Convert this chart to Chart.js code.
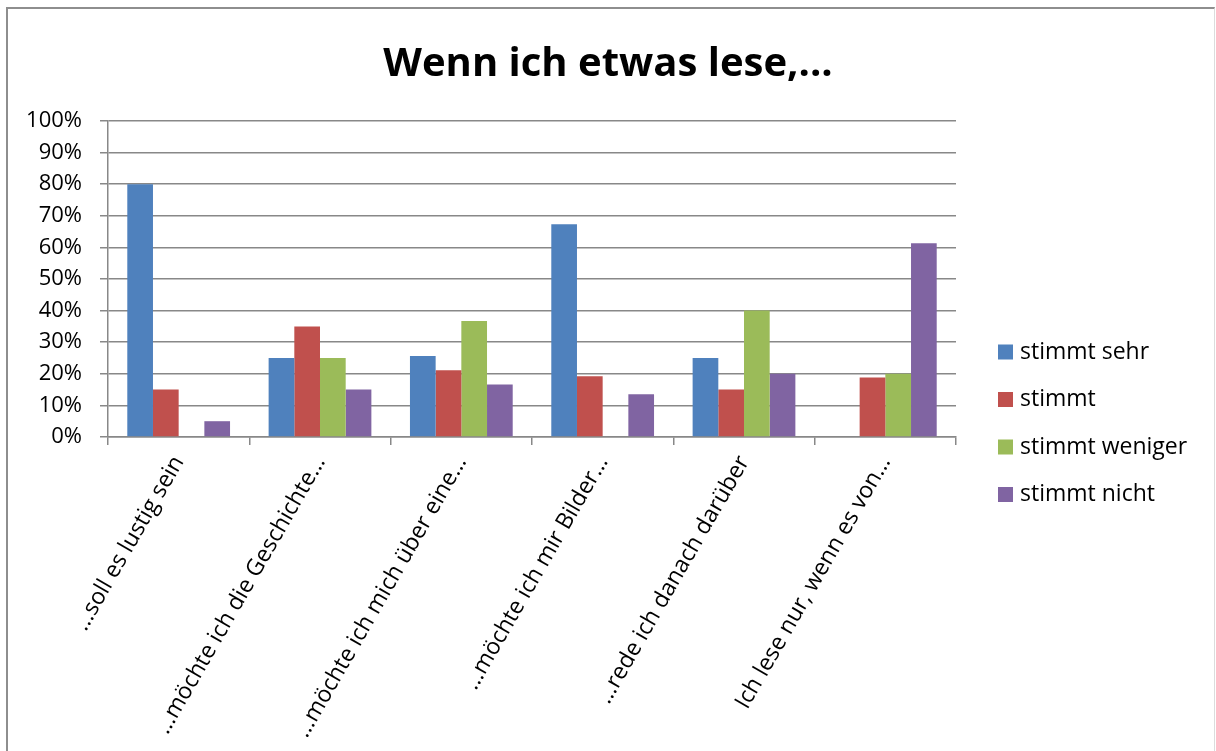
<!DOCTYPE html>
<html>
<head>
<meta charset="utf-8">
<script src="https://cdn.jsdelivr.net/npm/chart.js@4"></script>
<style>
    body { margin: 0; background: #fff; }
    #frame {
        position: absolute; left: 6px; top: 7px; width: 1206px; height: 800px;
        border-left: 2px solid #8e8e8e; border-top: 2px solid #8e8e8e; border-right: 1px solid #dcdcdc;
    }
    #chart { position: absolute; left: 0; top: 0; }
</style>
</head>
<body>
<div id="frame"></div>
<canvas id="chart" width="1216" height="751"></canvas>
<script>
// Chart data
const categories = [
    '…soll es lustig sein',
    '…möchte ich die Geschichte…',
    '…möchte ich mich über eine…',
    '…möchte ich mir Bilder…',
    '…rede ich danach darüber',
    'Ich lese nur, wenn es von…'
];
const seriesNames = ['stimmt sehr', 'stimmt', 'stimmt weniger', 'stimmt nicht'];
const stimmtSehr = [80, 25, 25.6, 67.3, 25, 0];
const stimmt = [15, 35, 21.1, 19.2, 15, 18.8];
const stimmtWeniger = [0, 25, 36.7, 0, 40, 20];
const stimmtNicht = [5, 15, 16.6, 13.5, 20, 61.3];
const colors = ['#4f81bd', '#c0504d', '#9bbb59', '#8064a2'];

const FONT = 'Open Sans';
const GRID = '#888888';

// Legend drawn on the right side, like the original
const sideLegend = {
    id: 'sideLegend',
    afterDraw(chart) {
        const ctx = chart.ctx;
        ctx.save();
        ctx.font = '23px "' + FONT + '"';
        ctx.textBaseline = 'middle';
        chart.data.datasets.forEach((ds, i) => {
            const y = 352 + i * 47.5;
            ctx.fillStyle = ds.backgroundColor;
            ctx.fillRect(998, y - 7.5, 15, 15);
            ctx.fillStyle = '#000';
            ctx.fillText(ds.label, 1020, y);
        });
        ctx.restore();
    }
};

const datasets = [stimmtSehr, stimmt, stimmtWeniger, stimmtNicht].map((values, i) => ({
    label: seriesNames[i],
    data: values,
    backgroundColor: colors[i],
    borderWidth: 0,
    categoryPercentage: 0.727,
    barPercentage: 1.0
}));

new Chart(document.getElementById('chart'), {
    type: 'bar',
    data: { labels: categories, datasets: datasets },
    options: {
        responsive: false,
        animation: false,
        layout: { padding: 0 },
        plugins: {
            legend: { display: false },
            tooltip: { enabled: false },
            title: {
                display: true,
                text: 'Wenn ich etwas lese,...',
                color: '#000',
                font: { family: FONT, size: 40, weight: 'bold', lineHeight: 1.2 },
                padding: { top: 41, bottom: 32 }
            }
        },
        scales: {
            x: {
                grid: { drawOnChartArea: false, drawTicks: true, tickLength: 8, color: GRID, lineWidth: 1.5 },
                border: { display: true, color: GRID, width: 1.5 },
                ticks: {
                    color: '#000',
                    font: { family: FONT, size: 23 },
                    minRotation: 60,
                    maxRotation: 60,
                    padding: 6,
                    autoSkip: false
                },
                afterFit: s => { s.height = 751 - 437; }
            },
            y: {
                min: 0,
                max: 100,
                grid: { color: GRID, lineWidth: 1.5, tickLength: 8, tickColor: GRID },
                border: { display: true, color: GRID, width: 1.5 },
                ticks: {
                    stepSize: 10,
                    color: '#000',
                    font: { family: FONT, size: 22 },
                    padding: 18,
                    callback: v => v + '%'
                },
                afterFit: s => { s.width = 108; }
            },
            // empty axis on the right: keeps room for the legend
            side: {
                position: 'right',
                min: 0,
                max: 100,
                grid: { display: false },
                border: { display: false },
                ticks: { display: false },
                afterFit: s => { s.width = 1216 - 956; }
            }
        }
    },
    plugins: [sideLegend]
});
</script>
</body>
</html>
